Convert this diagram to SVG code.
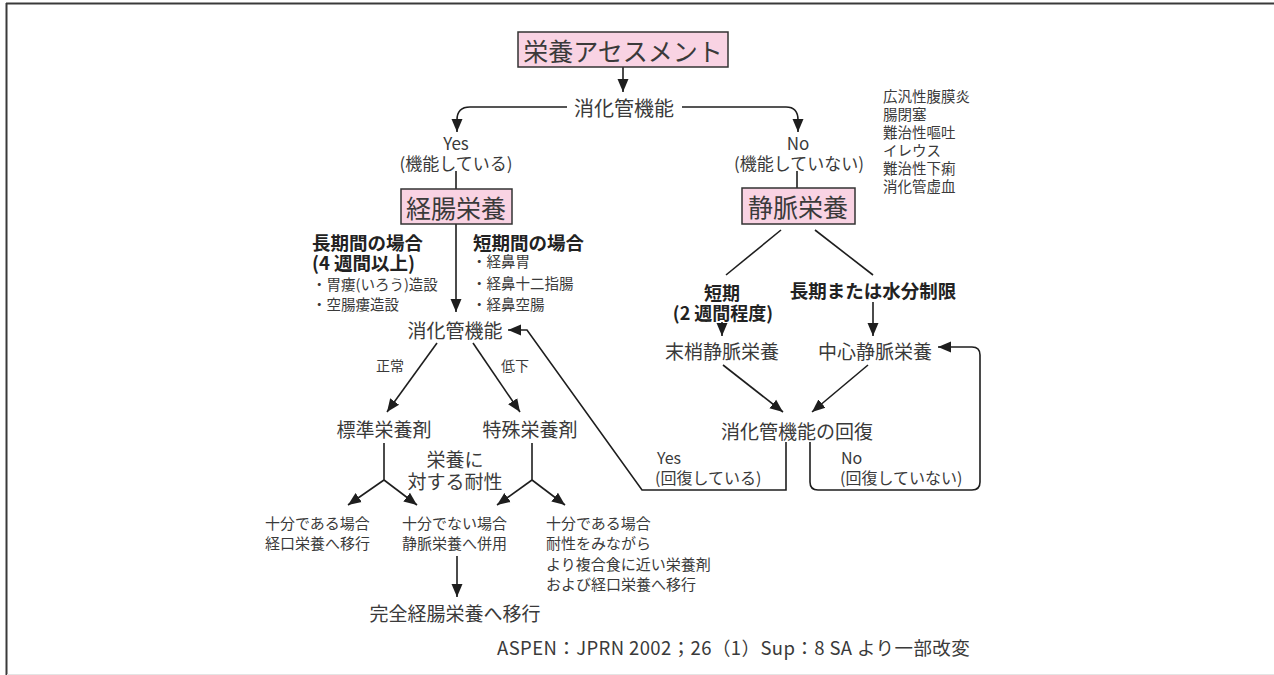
<svg xmlns="http://www.w3.org/2000/svg" width="1274" height="675" viewBox="0 0 1274 675">
<style>
text{font-family:"Noto Sans CJK JP","Noto Sans",sans-serif;fill:#3a3a3a;dominant-baseline:central}
.c{text-anchor:middle}
.b{font-weight:bold;fill:#222}
.box{fill:#f9d3e3;stroke:#333;stroke-width:1.5}
.ln{fill:none;stroke:#1e1e1e;stroke-width:1.6}
.arr{fill:none;stroke:#1e1e1e;stroke-width:1.6;marker-end:url(#ah)}
</style>
<defs>
<marker id="ah" markerUnits="userSpaceOnUse" markerWidth="14" markerHeight="14" viewBox="0 0 14 14" refX="13" refY="7" orient="auto">
<path d="M0,1.5 L13,7 L0,12.5 Z" fill="#1e1e1e"/>
</marker>
</defs>
<rect width="1274" height="675" fill="#fff"/>
<g id="frame">
<line x1="6" y1="3.5" x2="1274" y2="3.5" stroke="#3a3a3a" stroke-width="2"/>
<line x1="6.5" y1="3" x2="6.5" y2="675" stroke="#3a3a3a" stroke-width="2"/>
<line x1="7" y1="674.5" x2="1274" y2="674.5" stroke="#e4e4e4" stroke-width="1"/>
</g>
<g id="connectors">
<path class="arr" d="M623,67 V92"/>
<path class="arr" d="M567,107 H470 Q457,107 457,120 V132"/>
<path class="arr" d="M682,107 H786 Q798,107 798,120 V132"/>
<path class="ln" d="M456,171 V189"/>
<path class="ln" d="M797,171 V188"/>
<path class="arr" d="M456,224 V312"/>
<path class="arr" d="M437,343 L387,412"/>
<path class="arr" d="M473,343 L520,412"/>
<path class="ln" d="M384,443 V480"/>
<path class="arr" d="M384,480 L348,505"/>
<path class="arr" d="M384,480 L417,505"/>
<path class="ln" d="M532,443 V480"/>
<path class="arr" d="M532,480 L497,505"/>
<path class="arr" d="M532,480 L565,505"/>
<path class="arr" d="M457,556 V597"/>
<path class="ln" d="M781,230 L726,275"/>
<path class="ln" d="M815,230 L873,275"/>
<path class="arr" d="M722,322 V336"/>
<path class="arr" d="M873,302 V336"/>
<path class="arr" d="M723,365 L783,412"/>
<path class="arr" d="M868,365 L812,412"/>
<path class="arr" d="M786,442 V490 H642 L527,330 H508"/>
<path class="arr" d="M810,442 V482 Q810,490 818,490 H972 Q980,490 980,482 V355 Q980,347 972,347 H938"/>
</g>
<g id="n-assessment">
<rect class="box" x="518" y="32" width="210" height="35"/>
<text class="c" x="623" y="50" font-size="25">栄養アセスメント</text>
</g>
<g id="n-gi1">
<text class="c" x="624" y="107" font-size="20">消化管機能</text>
</g>
<g id="n-yes1">
<text class="c" x="456" y="142" font-size="17">Yes</text>
<text class="c" x="456" y="162" font-size="17">(機能している)</text>
</g>
<g id="n-no1">
<text class="c" x="798" y="142" font-size="17">No</text>
<text class="c" x="799" y="162" font-size="17">(機能していない)</text>
</g>
<g id="n-list">
<text x="883" y="95" font-size="14.5">広汎性腹膜炎</text>
<text x="883" y="113" font-size="14.5">腸閉塞</text>
<text x="883" y="131" font-size="14.5">難治性嘔吐</text>
<text x="883" y="149" font-size="14.5">イレウス</text>
<text x="883" y="167" font-size="14.5">難治性下痢</text>
<text x="883" y="185" font-size="14.5">消化管虚血</text>
</g>
<g id="n-enteral">
<rect class="box" x="401" y="189" width="111" height="35"/>
<text class="c" x="456" y="207" font-size="25">経腸栄養</text>
</g>
<g id="n-parenteral">
<rect class="box" x="742" y="188" width="113" height="36"/>
<text class="c" x="798" y="206" font-size="25">静脈栄養</text>
</g>
<g id="n-long">
<text class="b" x="312" y="242" font-size="18.5">長期間の場合</text>
<text class="b" x="312" y="262" font-size="18.5">(4 週間以上)</text>
<text x="312" y="283" font-size="14.5">・胃瘻(いろう)造設</text>
<text x="312" y="303" font-size="14.5">・空腸瘻造設</text>
</g>
<g id="n-short">
<text class="b" x="473" y="242" font-size="18.5">短期間の場合</text>
<text x="472" y="260" font-size="14.5">・経鼻胃</text>
<text x="472" y="282" font-size="14.5">・経鼻十二指腸</text>
<text x="472" y="303" font-size="14.5">・経鼻空腸</text>
</g>
<g id="n-gi2">
<text class="c" x="455" y="329" font-size="19">消化管機能</text>
</g>
<g id="n-normal"><text class="c" x="390" y="365" font-size="14">正常</text></g>
<g id="n-low"><text class="c" x="515" y="365" font-size="14">低下</text></g>
<g id="n-std"><text class="c" x="384" y="428" font-size="19">標準栄養剤</text></g>
<g id="n-spec"><text class="c" x="530" y="428" font-size="19">特殊栄養剤</text></g>
<g id="n-tol">
<text class="c" x="455" y="458" font-size="19">栄養に</text>
<text class="c" x="455" y="480" font-size="19">対する耐性</text>
</g>
<g id="n-ok1">
<text x="265" y="522" font-size="15">十分である場合</text>
<text x="265" y="542" font-size="15">経口栄養へ移行</text>
</g>
<g id="n-ng">
<text x="402" y="522" font-size="15">十分でない場合</text>
<text x="402" y="542" font-size="15">静脈栄養へ併用</text>
</g>
<g id="n-ok2">
<text x="546" y="522" font-size="15">十分である場合</text>
<text x="546" y="542" font-size="15">耐性をみながら</text>
<text x="546" y="563" font-size="15">より複合食に近い栄養剤</text>
<text x="546" y="583" font-size="15">および経口栄養へ移行</text>
</g>
<g id="n-full"><text class="c" x="455" y="612" font-size="19">完全経腸栄養へ移行</text></g>
<g id="n-shortterm">
<text class="b c" x="722" y="292" font-size="18">短期</text>
<text class="b c" x="723" y="312" font-size="18">(2 週間程度)</text>
</g>
<g id="n-longterm"><text class="b c" x="873" y="290" font-size="18.5">長期または水分制限</text></g>
<g id="n-ppn"><text class="c" x="722" y="350" font-size="19">末梢静脈栄養</text></g>
<g id="n-tpn"><text class="c" x="875" y="350" font-size="19">中心静脈栄養</text></g>
<g id="n-recov"><text class="c" x="797" y="430" font-size="19">消化管機能の回復</text></g>
<g id="n-yes2">
<text x="657" y="457" font-size="16">Yes</text>
<text x="655" y="477" font-size="16">(回復している)</text>
</g>
<g id="n-no2">
<text x="841" y="457" font-size="16">No</text>
<text x="840" y="477" font-size="16">(回復していない)</text>
</g>
<g id="n-cite"><text x="497" y="647" font-size="18.5" letter-spacing="0.4">ASPEN：JPRN 2002；26（1）Sup：8 SA より一部改変</text></g>
</svg>
